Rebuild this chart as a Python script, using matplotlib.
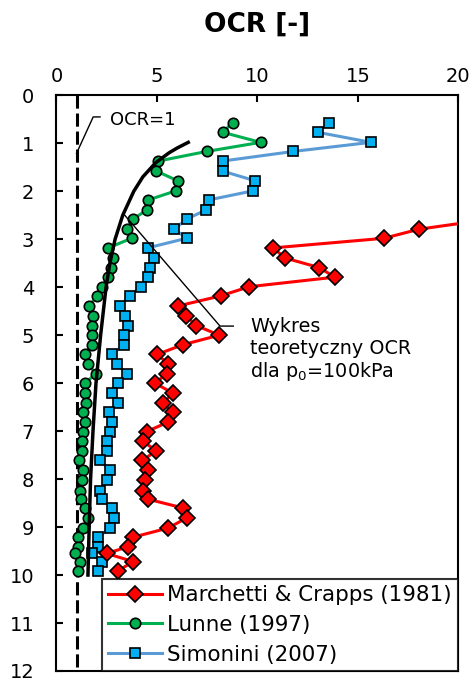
import matplotlib
matplotlib.use('Agg')
import matplotlib.pyplot as plt

# ===== dane =====
depth = [0.57, 0.77, 0.98, 1.17, 1.37, 1.58, 1.78, 1.99, 2.18, 2.39, 2.58, 2.79,
         2.98, 3.18, 3.39, 3.59, 3.79, 3.99, 4.18, 4.39, 4.59, 4.80, 5.00, 5.20,
         5.40, 5.60, 5.80, 6.00, 6.21, 6.41, 6.61, 6.81, 7.01, 7.21, 7.41, 7.61,
         7.81, 8.01, 8.24, 8.42, 8.60, 8.81, 9.02, 9.21, 9.41, 9.55, 9.72, 9.91]

lunne = [8.77, 8.27, 10.16, 7.47, 5.07, 4.98, 6.03, 5.95, 4.57, 4.49, 3.82, 3.49,
         3.74, 2.58, 2.80, 2.70, 2.58, 2.25, 2.02, 1.63, 1.83, 1.75, 1.78, 1.75,
         1.40, 1.55, 1.97, 1.42, 1.42, 1.48, 1.33, 1.40, 1.33, 1.28, 1.25, 1.13,
         1.33, 1.25, 1.17, 1.20, 1.42, 1.58, 1.33, 1.08, 1.08, 0.92, 1.17, 1.05]

simonini = [13.57, 13.0, 15.65, 11.78, 8.27, 8.27, 9.88, 9.79, 7.59, 7.44, 6.48, 5.86,
            6.48, 4.54, 4.87, 4.65, 4.57, 4.19, 3.66, 3.16, 3.41, 3.57, 3.36, 3.36,
            2.75, 3.00, 3.49, 3.08, 2.75, 3.08, 2.63, 2.75, 2.66, 2.50, 2.50, 2.16,
            2.66, 2.50, 2.16, 2.28, 2.75, 2.88, 2.66, 2.08, 2.08, 1.75, 2.25, 2.08]

# Marchetti zaczyna się od 2.58 m (wyżej poza skalą)
depth_m = depth[10:]
marchetti = [21.6, 18.05, 16.29, 10.79, 11.37, 13.07, 13.86, 9.58, 8.18, 6.06, 6.44,
             6.97, 8.10, 6.28, 5.02, 5.56, 5.51, 4.90, 5.81, 5.31, 5.78, 5.56, 4.49,
             4.29, 4.98, 4.27, 4.57, 4.40, 4.29, 4.57, 6.28, 6.48, 5.56, 3.82, 3.57,
             2.50, 3.82, 3.07]

# krzywa teoretyczna p0=100kPa
depth_t = [0.98, 1.1, 1.2, 1.4, 1.7, 2.0, 2.5, 3.0, 3.5, 4.0, 5.0, 6.0, 7.0, 8.0, 9.0, 10.0]
ocr_t = [6.56, 6.0, 5.6, 4.95, 4.3, 3.85, 3.3, 2.92, 2.66, 2.47, 2.2, 1.97, 1.82, 1.7, 1.63, 1.57]

xticks = [0, 5, 10, 15, 20]
yticks = list(range(13))

# ===== wykres =====
plt.rcParams['font.family'] = ['DejaVu Sans']
fig = plt.figure(figsize=(4.74, 6.81), dpi=100)
ax = fig.add_axes([0.119, 0.0147, 0.848, 0.8453])

ax.plot([1, 1], [0, 12], color='black', lw=2.2, dashes=(4.3, 1.6), zorder=2)

ax.plot(marchetti, depth_m, color='#FF0000', lw=2.2, marker='D', ms=8.5,
        mfc='#FF0000', mec='black', mew=1.2, label='Marchetti & Crapps (1981)', zorder=5)
ax.plot(lunne, depth, color='#00B050', lw=2.2, marker='o', ms=7.5,
        mfc='#00B050', mec='black', mew=1.2, label='Lunne (1997)', zorder=3)
ax.plot(simonini, depth, color='#5B9BD5', lw=2.2, marker='s', ms=7.5,
        mfc='#00B0F0', mec='black', mew=1.2, label='Simonini (2007)', zorder=4)

ax.plot(ocr_t, depth_t, color='black', lw=2.5, zorder=4.5)

# opisy
ax.plot([1.0, 1.83, 2.17], [1.21, 0.45, 0.45], color='black', lw=1, zorder=6)
ax.text(2.66, 0.52, 'OCR=1', fontsize=13, va='center', ha='left')

ax.plot([3.32, 8.14, 8.8], [2.46, 4.81, 4.81], color='black', lw=1, zorder=6)
ax.text(9.63, 4.63, 'Wykres\nteoretyczny OCR\ndla p$_0$=100kPa', fontsize=13.8,
        va='top', ha='left', linespacing=1.15)

ax.set_xlim(0, 20)
ax.set_ylim(12, 0)
ax.set_xticks(xticks)
ax.set_yticks(yticks)
ax.xaxis.tick_top()
ax.xaxis.set_label_position('top')
ax.tick_params(axis='both', direction='in', length=5, width=1.5, labelsize=14)
ax.tick_params(axis='x', pad=7)
ax.tick_params(axis='y', pad=16)
ax.tick_params(right=False, bottom=False)
for s in ax.spines.values():
    s.set_linewidth(1.5)

ax.set_xlabel('OCR [-]', fontsize=19, fontweight='bold', labelpad=25)

leg = ax.legend(loc='lower right', bbox_to_anchor=(1.0, 0.0), borderaxespad=0,
                fontsize=15.4, frameon=True, fancybox=False, handlelength=2.5,
                labelspacing=0.45, handletextpad=0.25, borderpad=0.3)
leg.get_frame().set_edgecolor('black')
leg.get_frame().set_linewidth(1.5)
leg.set_zorder(10)

fig.savefig('out.png', dpi=100)
